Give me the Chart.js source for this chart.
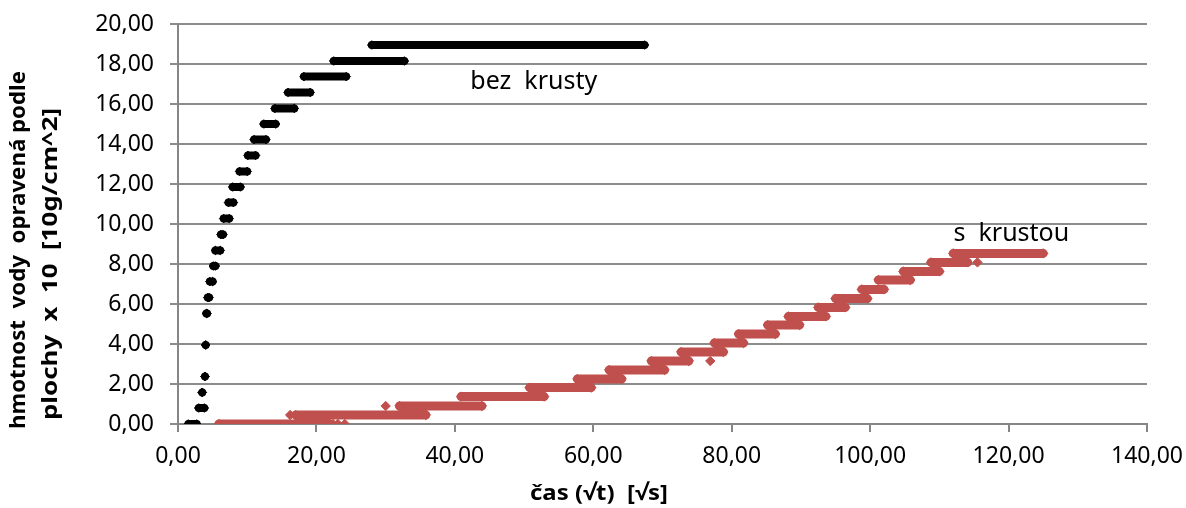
<!DOCTYPE html>
<html>
<head>
<meta charset="utf-8">
<script src="https://cdn.jsdelivr.net/npm/chart.js@4.4.0/dist/chart.umd.min.js"></script>
<style>
  html, body { margin: 0; padding: 0; background: #fff; }
  #wrap { width: 1186px; height: 508px; position: relative; }
</style>
</head>
<body>
<div id="wrap"><canvas id="c" width="1186" height="508"></canvas></div>
<script>
// Sample without crust: each weighing level with first and last reading time (√s)
const bezLevels = [0.00, 0.80, 1.58, 2.38, 3.95, 5.53, 6.32, 7.12, 7.90, 8.68, 9.47, 10.27,
                   11.07, 11.85, 12.63, 13.43, 14.22, 15.00, 15.78, 16.58, 17.37, 18.15, 18.95];
const bezStart  = [1.5, 3.0, 3.5, 3.9, 4.0, 4.1, 4.3, 4.6, 5.1, 5.4, 6.2, 6.6,
                   7.3, 7.9, 8.9, 10.1, 11.0, 12.4, 14.0, 15.9, 18.2, 22.5, 28.0];
const bezEnd    = [2.7, 3.8, 3.5, 3.9, 4.0, 4.2, 4.5, 5.0, 5.4, 6.1, 6.5, 7.4,
                   8.0, 9.0, 10.0, 11.2, 12.7, 14.1, 16.8, 19.1, 24.3, 32.7, 67.4];

// Sample with crust: weighing levels and their time spans
const sLevels = [0.00, 0.45, 0.90, 1.37, 1.82, 2.25, 2.70, 3.15, 3.60, 4.05, 4.50, 4.95,
                 5.38, 5.83, 6.27, 6.73, 7.20, 7.63, 8.08, 8.53];
const sStart  = [5.9, 17.0, 32.0, 40.9, 50.8, 57.7, 62.3, 68.4, 72.7, 77.5, 81.0, 85.2,
                 88.2, 92.5, 95.0, 98.8, 101.2, 104.8, 108.8, 112.0];
const sEnd    = [21.9, 35.8, 43.9, 52.9, 59.7, 64.1, 70.3, 73.8, 78.8, 81.7, 86.3, 89.8,
                 93.6, 96.4, 99.6, 102.0, 105.8, 110.0, 114.1, 125.0];
// isolated readings of the crusted sample
const sLoneX = [22.4, 23.1, 24.1, 16.2, 30.0, 76.9, 115.5];
const sLoneY = [0.00, 0.00, 0.00, 0.45, 0.90, 3.15, 8.08];

// axis ticks
const xTicks = [0, 20, 40, 60, 80, 100, 120, 140];
const yTicks = [0, 2, 4, 6, 8, 10, 12, 14, 16, 18, 20];

const FONT = "'Noto Sans', 'Open Sans', sans-serif";

function stepPoints(levels, starts, ends) {
  const pts = [];
  levels.forEach((y, i) => {
    pts.push({ x: starts[i], y: y });
    pts.push({ x: ends[i], y: y });
    pts.push({ x: ends[i], y: null });
  });
  return pts;
}
function endPoints(levels, ends, loneX, loneY) {
  const pts = levels.map((y, i) => ({ x: ends[i], y: y }));
  (loneX || []).forEach((x, i) => pts.push({ x: x, y: loneY[i] }));
  return pts;
}
const fmt = v => Number(v).toFixed(2).replace('.', ',');

// draws a text line centred at (cx, cy), stretched to the given width
function fitText(ctx, text, cx, cy, width, angle) {
  ctx.save();
  ctx.translate(cx, cy);
  if (angle) ctx.rotate(angle);
  const w = ctx.measureText(text).width;
  ctx.scale(width / w, 1);
  ctx.fillText(text, 0, 0);
  ctx.restore();
}

const labelsPlugin = {
  id: 'labels',
  afterDraw(chart) {
    const ctx = chart.ctx;
    const xs = chart.scales.x, ys = chart.scales.y;
    ctx.save();
    ctx.fillStyle = '#000';
    ctx.textBaseline = 'middle';
    ctx.textAlign = 'center';
    // series names
    ctx.font = `25px ${FONT}`;
    ctx.fillText('bez  krusty', xs.getPixelForValue(51.4), ys.getPixelForValue(17.1));
    ctx.fillText('s  krustou', xs.getPixelForValue(120.4), ys.getPixelForValue(9.5));
    // x axis title
    ctx.font = `bold 22px ${FONT}`;
    fitText(ctx, 'čas (√t)  [√s]', 599, 494, 138, 0);
    // y axis title
    fitText(ctx, 'hmotnost  vody  opravená podle', 19, 250, 358, -Math.PI / 2);
    fitText(ctx, 'plochy  x  10  [10g/cm^2]', 51, 264, 312, -Math.PI / 2);
    ctx.restore();
  }
};

const black = '#000000';
const red = '#c0504d';

new Chart(document.getElementById('c'), {
  type: 'scatter',
  data: {
    datasets: [
      {
        label: 'bez krusty',
        data: stepPoints(bezLevels, bezStart, bezEnd),
        showLine: true,
        spanGaps: false,
        borderColor: black,
        borderWidth: 8,
        borderCapStyle: 'round',
        pointStyle: 'rectRot',
        pointRadius: 4.3,
        pointBackgroundColor: black,
        pointBorderColor: black,
        pointBorderWidth: 1
      },
      {
        label: 'bez krusty (poslední)',
        data: endPoints(bezLevels, bezEnd),
        showLine: false,
        pointStyle: 'circle',
        pointRadius: 1.2,
        pointBackgroundColor: '#4a7ebb',
        pointBorderWidth: 0
      },
      {
        label: 's krustou',
        data: stepPoints(sLevels, sStart, sEnd),
        showLine: true,
        spanGaps: false,
        borderColor: red,
        borderWidth: 9,
        borderCapStyle: 'round',
        pointStyle: 'rectRot',
        pointRadius: 4.7,
        pointBackgroundColor: red,
        pointBorderColor: red,
        pointBorderWidth: 1
      },
      {
        label: 's krustou (samostatné)',
        data: sLoneX.map((x, i) => ({ x: x, y: sLoneY[i] })),
        showLine: false,
        pointStyle: 'rectRot',
        pointRadius: 4.7,
        pointBackgroundColor: red,
        pointBorderColor: red,
        pointBorderWidth: 1
      },
      {
        label: 's krustou (poslední)',
        data: endPoints(sLevels, sEnd, sLoneX, sLoneY),
        showLine: false,
        pointStyle: 'circle',
        pointRadius: 1.3,
        pointBackgroundColor: '#000',
        pointBorderWidth: 0
      }
    ]
  },
  options: {
    responsive: false,
    animation: false,
    events: [],
    layout: { padding: { left: 0, right: 39, top: 24, bottom: 0 } },
    plugins: { legend: { display: false }, tooltip: { enabled: false } },
    scales: {
      x: {
        type: 'linear',
        min: 0, max: 140,
        afterBuildTicks: s => { s.ticks = xTicks.map(v => ({ value: v })); },
        afterFit: s => { s.height = 84; s.paddingLeft = 0; s.paddingRight = 0; },
        ticks: { callback: fmt, color: '#000', font: { family: FONT, size: 23 }, padding: 11, maxRotation: 0 },
        grid: { drawOnChartArea: false, drawTicks: true, tickLength: 8, color: '#868686', lineWidth: 2 },
        border: { display: true, color: '#868686', width: 2 }
      },
      y: {
        type: 'linear',
        min: 0, max: 20,
        afterBuildTicks: s => { s.ticks = yTicks.map(v => ({ value: v })); },
        afterFit: s => { s.width = 178; s.paddingTop = 0; s.paddingBottom = 0; },
        ticks: { callback: fmt, color: '#000', font: { family: FONT, size: 23 }, padding: 16 },
        grid: { color: '#8c8c8c', lineWidth: 2, tickLength: 8, drawTicks: true },
        border: { display: true, color: '#868686', width: 2 }
      }
    }
  },
  plugins: [labelsPlugin]
});
</script>
</body>
</html>
